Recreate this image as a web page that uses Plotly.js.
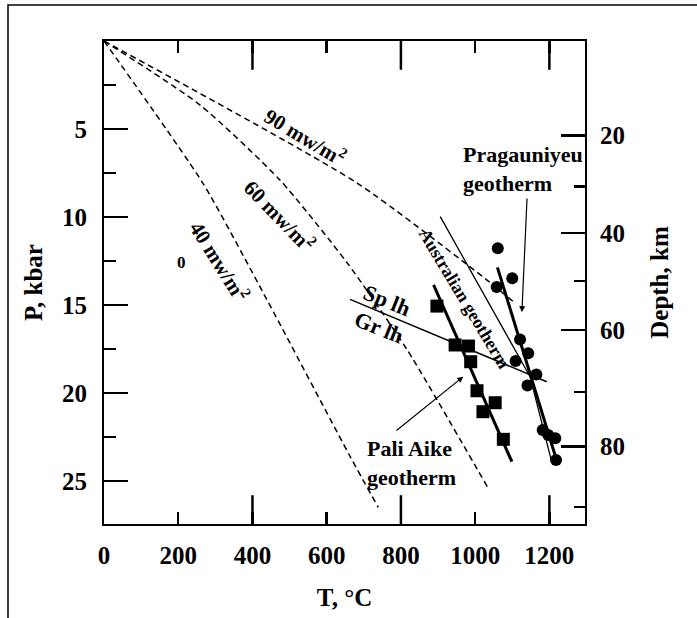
<!DOCTYPE html>
<html>
<head>
<meta charset="utf-8">
<script src="https://cdn.plot.ly/plotly-3.0.1.min.js"></script>
<style>html,body{margin:0;padding:0;background:#fff;}#chart{width:697px;height:618px;}</style>
</head>
<body>
<div id="chart"></div>
<script>
// ---- data ----
// Pali Aike xenoliths (squares)
const T_pali = [897, 946, 982, 988, 1005, 1054, 1021, 1076];
const P_pali = [15.06, 17.27, 17.33, 18.22, 19.87, 20.55, 21.06, 22.63];
// Pragauniyeu xenoliths (circles)
const T_prag = [1061, 1100, 1058, 1121, 1143, 1109, 1165, 1141, 1182, 1197, 1216, 1218];
const P_prag = [11.78, 13.48, 13.98, 16.96, 17.74, 18.18, 18.95, 19.57, 22.10, 22.39, 22.57, 23.80];
// model geotherms (dashed)
const T_g90 = [0, 682, 1032, 1108];
const P_g90 = [0, 8.07, 13.58, 14.9];
const T_g60 = [0, 259, 474, 655, 817, 1035];
const P_g60 = [0, 3.64, 7.9, 12.6, 17.55, 25.4];
const T_g40 = [0, 267, 439, 663, 739];
const P_g40 = [0, 8.1, 14.7, 23.6, 26.5];
// fitted geotherms and phase boundary (solid)
const T_paliFit = [888, 1099];
const P_paliFit = [13.86, 23.9];
const T_pragFit = [1060, 1222];
const P_pragFit = [12.86, 23.99];
const T_spgr = [663, 1193];
const P_spgr = [14.68, 19.36];
const T_aus = [906, 1148, 1205];
const P_aus = [9.98, 19.07, 23.8];
// axes
const xTicks = [0, 200, 400, 600, 800, 1000, 1200];
const xLongTicks = [400, 800, 1200];
const pTicks = [5, 10, 15, 20, 25];
const depthLabels = ['20', '40', '60', '80'];
const depthMajorP = [5.38, 10.91, 16.42, 23.05];
const depthMinorP = [8.28, 13.64, 19.93, 26.46];

const FONT = 'Liberation Serif, Times New Roman, serif';
const xRange = [0, 1296];
const yRange = [27.44, 0];
const M = {l: 104, r: 112, t: 41, b: 94};
const W = 697, H = 618;

function dashed(x, y) {
  return {x: x, y: y, mode: 'lines', type: 'scatter', hoverinfo: 'skip',
    line: {color: 'black', width: 1.5, dash: '6px,4px', shape: 'spline', smoothing: 0.6}};
}
function solid(x, y, w) {
  return {x: x, y: y, mode: 'lines', type: 'scatter', hoverinfo: 'skip',
    line: {color: 'black', width: w}};
}
function axisHolder(xa, ya) {
  return {x: [xRange[0]], y: [yRange[1]], xaxis: xa, yaxis: ya, mode: 'markers', type: 'scatter',
    hoverinfo: 'skip', marker: {opacity: 0, size: 1}};
}
// long x tick marks (400/800/1200) on bottom and top edges, as vertical line markers
const pPerPx = (yRange[0] - yRange[1]) / (H - M.t - M.b);
function xTickMarks(vals, lenPx) {
  const half = lenPx / 2 * pPerPx, xs = [], ys = [];
  vals.forEach(function (v) {
    xs.push(v, v);
    ys.push(yRange[0] - half, yRange[1] + half);
  });
  return {x: xs, y: ys, mode: 'markers', type: 'scatter', hoverinfo: 'skip',
    marker: {symbol: 'line-ns', size: lenPx, color: 'black', line: {color: 'black', width: 2.5}}};
}

const traces = [
  axisHolder('x', 'y2'),
  axisHolder('x', 'y3'),
  dashed(T_g90, P_g90),
  dashed(T_g60, P_g60),
  dashed(T_g40, P_g40),
  solid(T_spgr, P_spgr, 1.5),
  solid(T_aus, P_aus, 1.3),
  solid(T_paliFit, P_paliFit, 3),
  solid(T_pragFit, P_pragFit, 3),
  {x: T_pali, y: P_pali, mode: 'markers', type: 'scatter',
    marker: {symbol: 'square', size: 13, color: 'black'}},
  {x: T_prag, y: P_prag, mode: 'markers', type: 'scatter',
    marker: {symbol: 'circle', size: 12, color: 'black'}},
  xTickMarks(xLongTicks, 24)
];

const tf = {family: FONT, size: 25, color: 'black', weight: 'bold'};

function ann(text, x, y, angle, size, extra) {
  return Object.assign({text: text, x: x, y: y, xref: 'x', yref: 'y', showarrow: false,
    textangle: angle, font: {family: FONT, size: size, color: 'black', weight: 'bold'}}, extra || {});
}

const annotations = [
  ann('90 mw/m<sup>2</sup>', 542, 5.45, 31, 21),
  ann('60 mw/m<sup>2</sup>', 474, 9.9, 46, 21),
  ann('40 mw/m<sup>2</sup>', 313, 12.5, 58, 21),
  ann('0', 210, 12.56, 0, 17),
  ann('Pragauniyeu<br>geotherm', 962, 7.27, 0, 22, {xanchor: 'left', align: 'left'}),
  ann('Pali Aike<br>geotherm', 703, 23.98, 0, 22, {xanchor: 'left', align: 'left'}),
  ann('Sp lh', 763, 14.72, 22, 22),
  ann('Gr lh', 741, 16.25, 22, 22),
  ann('Australian geotherm', 970, 14.6, 59, 18),
  {x: 1126, y: 15.4, ax: 1140, ay: 8.86, xref: 'x', yref: 'y', axref: 'x', ayref: 'y',
    text: '', showarrow: true, arrowhead: 2, arrowsize: 1, arrowwidth: 1.2, arrowcolor: 'black'},
  {x: 968, y: 19.07, ax: 784, ay: 22.2, xref: 'x', yref: 'y', axref: 'x', ayref: 'y',
    text: '', showarrow: true, arrowhead: 2, arrowsize: 1, arrowwidth: 1.2, arrowcolor: 'black'}
];

const layout = {
  width: W, height: H,
  margin: M,
  paper_bgcolor: 'white', plot_bgcolor: 'white',
  showlegend: false,
  xaxis: {range: xRange, tickmode: 'array', tickvals: xTicks, ticktext: xTicks.map(String),
    ticks: 'inside', ticklen: 12, tickwidth: 2.5, tickcolor: 'black',
    showline: true, linewidth: 2, linecolor: 'black', mirror: 'ticks',
    showgrid: false, zeroline: false, tickfont: tf, ticklabelstandoff: 8,
    title: {text: 'T, °C', font: tf, standoff: 20}},
  yaxis: {range: yRange, tickmode: 'array', tickvals: pTicks, ticktext: pTicks.map(String),
    ticks: 'inside', ticklen: 24, tickwidth: 2.5, tickcolor: 'black',
    minor: {dtick: 2.5, tick0: 0, ticks: 'inside', ticklen: 12, tickwidth: 2.5, tickcolor: 'black', showgrid: false},
    showline: true, linewidth: 2, linecolor: 'black',
    showgrid: false, zeroline: false, tickfont: tf, ticklabelstandoff: 10,
    title: {text: 'P, kbar', font: tf, standoff: 12}},
  yaxis2: {range: yRange, overlaying: 'y', anchor: 'x', side: 'right',
    tickmode: 'array', tickvals: depthMajorP, ticktext: depthLabels,
    ticks: 'inside', ticklen: 24, tickwidth: 2.5, tickcolor: 'black',
    showline: true, linewidth: 2, linecolor: 'black',
    showgrid: false, zeroline: false, tickfont: tf, ticklabelstandoff: 8,
    title: {text: 'Depth, km', font: tf, standoff: 26}},
  yaxis3: {range: yRange, overlaying: 'y', anchor: 'x', side: 'right',
    tickmode: 'array', tickvals: depthMinorP, showticklabels: false,
    ticks: 'inside', ticklen: 11, tickwidth: 2.5, tickcolor: 'black',
    showline: false, showgrid: false, zeroline: false},
  annotations: annotations,
  shapes: [
    {type: 'path', xref: 'paper', yref: 'paper',
     path: 'M -0.1996,-0.2 L -0.1996,1.0745 L 1.233,1.0745',
     line: {color: 'black', width: 1.5}}
  ]
};

Plotly.newPlot('chart', traces, layout, {staticPlot: true, displayModeBar: false});
</script>
</body>
</html>
